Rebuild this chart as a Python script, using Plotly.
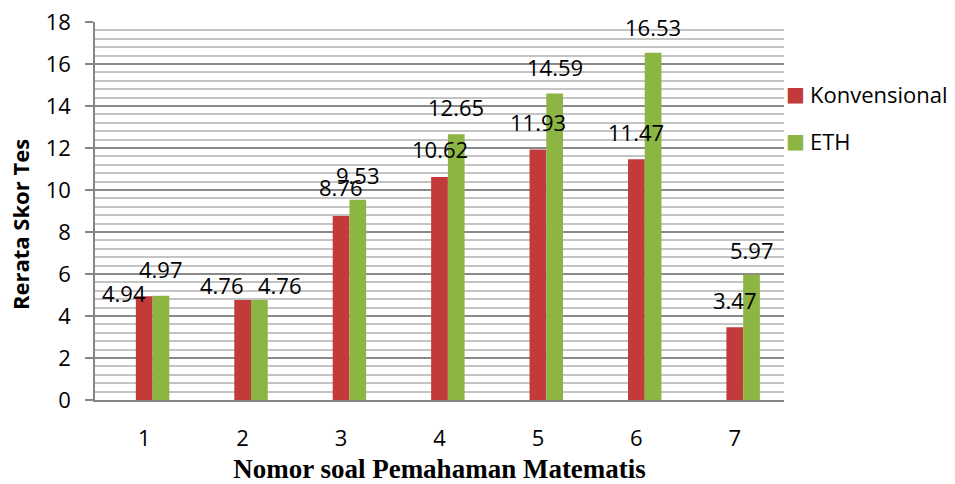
import plotly.graph_objects as go

categories = [1, 2, 3, 4, 5, 6, 7]
tick_labels = ["1", "2", "3", "4", "5", "6", "7"]
konvensional = [4.94, 4.76, 8.76, 10.62, 11.93, 11.47, 3.47]
eth = [4.97, 4.76, 9.53, 12.65, 14.59, 16.53, 5.97]
series_names = ["Konvensional", "ETH"]

# label placement tweaks (pixels) to mimic the original label layout
red_dx = [-20, -21, 0, 0, 0, 0, 0]
red_dy = [3, 15, 29, 28, 27, 27, 27]
green_dx = [0, 21, 0, 0, 0, 0, 0]
green_dy = [27, 15, 25, 27, 27, 26, 25]

RED = "#c23a3a"
GREEN = "#8db543"
FONT = "Open Sans"
BW = 0.17

# plot-area geometry in pixels (used to place paper-referenced texts)
L, R, T, B = 95, 784, 22, 400
PW, PH = R - L, B - T


def px_x(px):
    return (px - L) / PW


def px_y(py):
    return (B - py) / PH


fig = go.Figure()
fig.add_trace(go.Bar(x=categories, y=konvensional, name=series_names[0],
                     marker=dict(color=RED, line=dict(width=0)),
                     width=BW, offset=-BW / 2, showlegend=False))
fig.add_trace(go.Bar(x=categories, y=eth, name=series_names[1],
                     marker=dict(color=GREEN, line=dict(width=0)),
                     width=BW, offset=BW / 2, showlegend=False))

for i, c in enumerate(categories):
    fig.add_annotation(x=c, y=konvensional[i], text=f"{konvensional[i]:.2f}",
                       showarrow=False, xanchor="center", yanchor="middle",
                       xshift=red_dx[i], yshift=red_dy[i],
                       font=dict(family=FONT, size=22, color="black"))
    fig.add_annotation(x=c + BW, y=eth[i], text=f"{eth[i]:.2f}",
                       showarrow=False, xanchor="center", yanchor="middle",
                       xshift=green_dx[i], yshift=green_dy[i],
                       font=dict(family=FONT, size=22, color="black"))

# legend (drawn as text so it does not shrink the plot area)
for name, col, py in [(series_names[0], RED, 94), (series_names[1], GREEN, 141)]:
    fig.add_annotation(xref="paper", yref="paper", x=px_x(795), y=px_y(py),
                       text="■", showarrow=False, xanchor="center", yanchor="middle",
                       font=dict(family="DejaVu Sans", size=20, color=col))
    fig.add_annotation(xref="paper", yref="paper", x=px_x(808), y=px_y(py),
                       text=name, showarrow=False, xanchor="left", yanchor="middle",
                       font=dict(family=FONT, size=22, color="black"))

# y-axis title as a rotated annotation (placed like the original)
fig.add_annotation(xref="paper", yref="paper", x=px_x(20), y=px_y(225),
                   text="<b>Rerata Skor Tes</b>", textangle=-90, showarrow=False,
                   xanchor="center", yanchor="middle",
                   font=dict(family=FONT, size=22, color="black"))

fig.update_layout(
    width=955, height=484,
    margin=dict(l=L, r=955 - R, t=T, b=484 - B, pad=0),
    paper_bgcolor="white", plot_bgcolor="white",
    barmode="overlay",
    font=dict(family=FONT, size=22, color="black"),
    showlegend=False,
)
fig.update_xaxes(
    range=[0.5, 7.5], tickvals=categories, ticktext=tick_labels,
    showgrid=False, zeroline=False, automargin=False,
    showline=True, linecolor="#868686", linewidth=1.5,
    ticks="", ticklabelstandoff=18,
    tickfont=dict(family=FONT, size=22, color="black"),
    title=dict(text="<b>Nomor soal Pemahaman Matematis</b>",
               font=dict(family="Liberation Serif", size=27, color="black"),
               standoff=14),
)
fig.update_yaxes(
    range=[0, 18], tick0=0, dtick=2, automargin=False,
    showgrid=True, gridcolor="#8a8a8a", gridwidth=1.5,
    minor=dict(dtick=0.4, tick0=0, showgrid=True, gridcolor="#c4c4c4", gridwidth=1.5),
    zeroline=False,
    showline=True, linecolor="#868686", linewidth=1.5,
    ticks="outside", ticklen=8, tickcolor="#868686", tickwidth=1.5,
    ticklabelstandoff=10,
    tickfont=dict(family=FONT, size=22, color="black"),
)

fig.write_html("out.html", config={"displayModeBar": False},
               post_script="document.body.style.margin='0';")
